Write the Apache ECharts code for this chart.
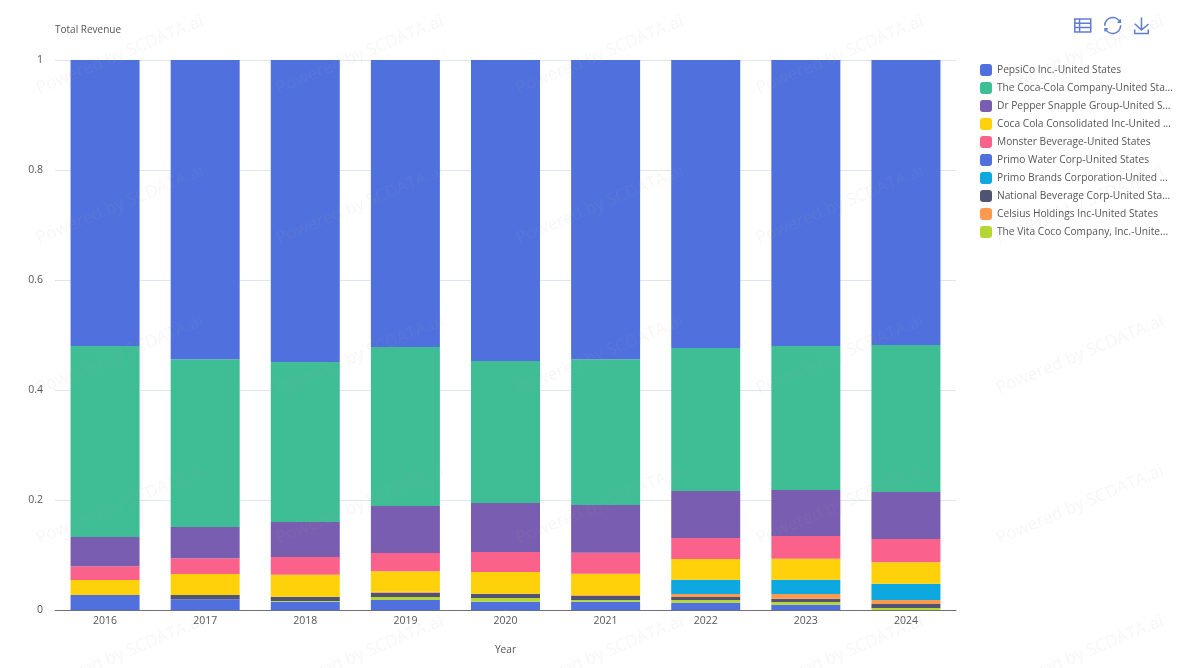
<!DOCTYPE html>
<html><head><meta charset="utf-8">
<style>html,body{margin:0;padding:0;background:#fff}#c{width:1195px;height:668px}</style>
<script src="https://cdn.jsdelivr.net/npm/echarts@6/dist/echarts.min.js"></script>
</head><body><div id="c"></div>
<script>
const years = ['2016','2017','2018','2019','2020','2021','2022','2023','2024'];
const primoWater = [.0273,.0194,.0151,.0182,.0151,.0151,.0133,.0097,0];
const vitaCoco = [0,0,.0013,.0054,.0067,.0031,.0049,.0048,.0036];
const nationalBeverage = [0,.0079,.0078,.0079,.0079,.0078,.0054,.0061,.0073];
const celsius = [0,0,0,.0018,0,.0013,.0055,.0085,.0073];
const primoBrands = [0,0,0,0,0,0,.026,.026,.0297];
const cocaColaConsolidated = [.0272,.0382,.04,.037,.0394,.0387,.0376,.0382,.0388];
const monster = [.0249,.0285,.0322,.0333,.0364,.0382,.0382,.0412,.0424];
const drPepper = [.0533,.057,.0636,.0854,.089,.0868,.0855,.0837,.0854];
const cocaCola = [.3473,.305,.291,.289,.2582,.265,.26,.2618,.2673];
const pepsiCo = [.52,.544,.549,.522,.5473,.544,.5236,.52,.5182];

const legendOrder = ['PepsiCo Inc.-United States','The Coca-Cola Company-United States','Dr Pepper Snapple Group-United States','Coca Cola Consolidated Inc-United States','Monster Beverage-United States','Primo Water Corp-United States','Primo Brands Corporation-United States','National Beverage Corp-United States','Celsius Holdings Inc-United States','The Vita Coco Company, Inc.-United States'];
const stack = [
 ['Primo Water Corp-United States',primoWater,'#5070DD'],
 ['The Vita Coco Company, Inc.-United States',vitaCoco,'#B6D634'],
 ['National Beverage Corp-United States',nationalBeverage,'#505372'],
 ['Celsius Holdings Inc-United States',celsius,'#FF994D'],
 ['Primo Brands Corporation-United States',primoBrands,'#0CA8DF'],
 ['Coca Cola Consolidated Inc-United States',cocaColaConsolidated,'#FFD10A'],
 ['Monster Beverage-United States',monster,'#FB628B'],
 ['Dr Pepper Snapple Group-United States',drPepper,'#785DB0'],
 ['The Coca-Cola Company-United States',cocaCola,'#3FBE95'],
 ['PepsiCo Inc.-United States',pepsiCo,'#5070DD']
];
const font = '"Open Sans","Noto Sans",sans-serif';
const wm = [];
for (let r = 0; r < 5; r++) for (let c = 0; c < 5; c++) {
  wm.push({type:'text',x:120+c*240,y:55+r*150,rotation:22.6*Math.PI/180,silent:true,z:100,
    style:{text:'Powered by SCDATA.ai',fill:'rgba(170,170,170,0.10)',font:'17px '+font,align:'center',verticalAlign:'middle'}});
}
const chart = echarts.init(document.getElementById('c'));
chart.setOption({
  animation:false,
  grid:{left:55,right:239,top:60,bottom:58},
  graphic:wm,
  toolbox:{right:29,top:0,itemSize:16,itemGap:9,iconStyle:{borderColor:'#5f7ccf',borderWidth:1.5},
    feature:{
      dataView:{icon:'path://M0 0H20V16H0Z M0 5.3H20 M0 10.6H20 M6 0V16'},
      restore:{},saveAsImage:{}}},
  legend:{orient:'vertical',left:975,top:59,itemWidth:12,itemHeight:12,itemGap:6,icon:'roundRect',
    data:legendOrder,
    textStyle:{color:'#555',fontFamily:font,fontSize:10.2,width:177,overflow:'truncate',ellipsis:'...'}},
  xAxis:{type:'category',data:years,name:'Year',nameLocation:'middle',nameGap:35,
    nameTextStyle:{color:'#555',fontFamily:font,fontSize:10.2},
    axisTick:{show:false},axisLine:{lineStyle:{color:'#6E7079'}},
    axisLabel:{color:'#555',fontFamily:font,fontSize:10.5,margin:6}},
  yAxis:{type:'value',min:0,max:1,interval:.2,name:'Total Revenue',nameLocation:'end',nameGap:25,
    nameTextStyle:{color:'#555',fontFamily:font,fontSize:10,align:'left'},
    axisLine:{show:false},axisTick:{show:false},
    splitLine:{lineStyle:{color:'#E0E6F1'}},
    axisLabel:{color:'#555',fontFamily:font,fontSize:10.5,margin:12}},
  series:stack.map(([name,data,color])=>({name,type:'bar',stack:'total',data,barWidth:69,itemStyle:{color}}))
});
</script></body></html>
